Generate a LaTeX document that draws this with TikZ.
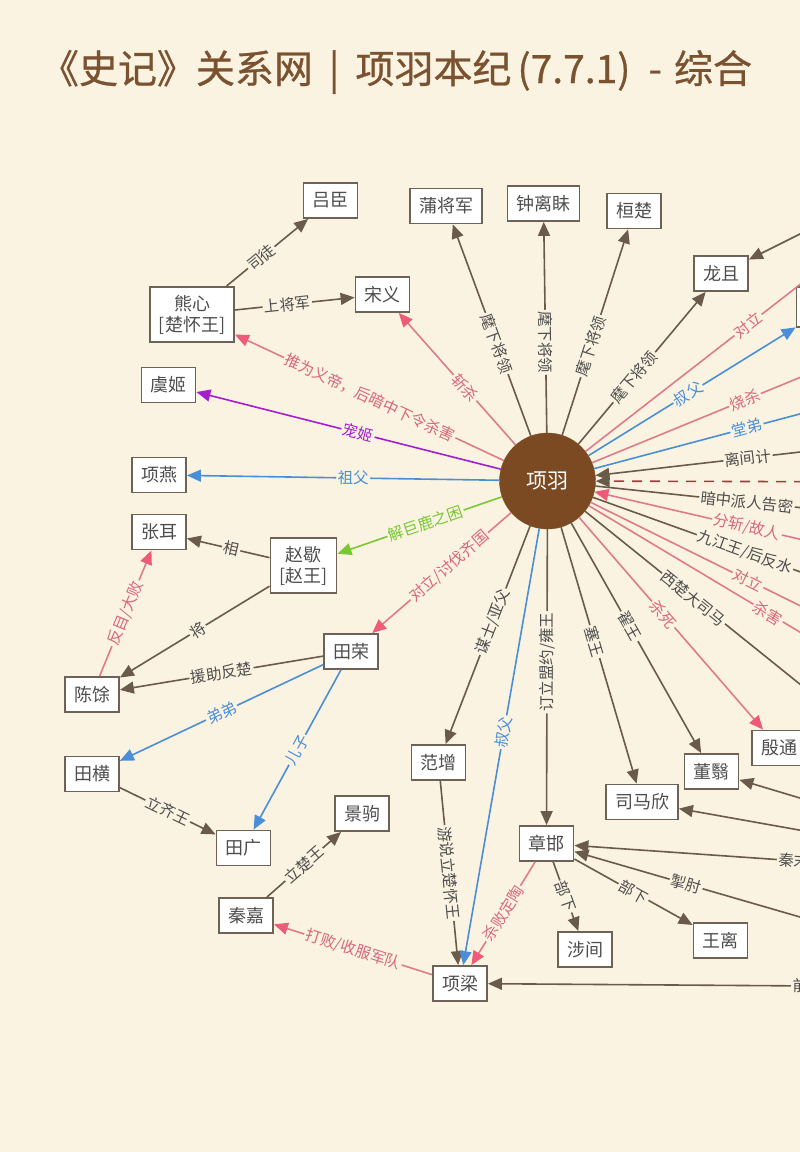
\documentclass[tikz,border=0pt]{standalone}
\usepackage{fontspec}
\setmainfont{Noto Sans CJK SC}
\newfontfamily\titlefont[FakeBold=0.7]{Noto Sans CJK SC}
\usetikzlibrary{arrows.meta}
\definecolor{bg}{HTML}{FBF3E1}
\definecolor{ttl}{HTML}{7A5230}
\definecolor{boxd}{HTML}{6E6257}
\definecolor{txt}{HTML}{4E4E4E}
\definecolor{brn}{HTML}{6A5A4A}
\definecolor{pnk}{HTML}{DE7A8E}
\definecolor{pnkA}{HTML}{EE5A7A}
\definecolor{pnkT}{HTML}{D8667E}
\definecolor{blu}{HTML}{4A8ED8}
\definecolor{pur}{HTML}{A41ED0}
\definecolor{grn}{HTML}{78C832}
\definecolor{hubc}{HTML}{7B4A22}
\definecolor{dred}{HTML}{B0343C}
\newcommand\rel[6][0.5]{\draw[#2] (#4) -- (#5); \path (#4.center) -- node[#3,pos=#1]{#6} (#5.center);}
\tikzset{
  box/.style={draw=boxd, line width=1.8pt, fill=white, text=txt, font=\fontsize{18}{21}\selectfont,
    inner xsep=9pt, inner ysep=0pt, minimum height=35pt, align=center},
  tall/.style={minimum height=55pt},
  hubn/.style={circle, fill=hubc, draw=hubc, minimum size=96pt, inner sep=0pt, text=white, font=\fontsize{21}{24}\selectfont},
  lb/.style={fill=bg, inner sep=1.5pt, sloped, font=\fontsize{15.5}{17}\selectfont},
  lB/.style={lb, text=txt},
  lP/.style={lb, text=pnkT},
  lU/.style={lb, text=blu},
  lV/.style={lb, text=pur},
  lG/.style={lb, text=grn},
  tip/.style={-{Triangle[length=14pt,width=12pt,color=#1]}},
  eB/.style={draw=brn, line width=1.6pt, tip=brn},
  eP/.style={draw=pnk, line width=1.6pt, tip=pnkA},
  eU/.style={draw=blu, line width=1.6pt, tip=blu},
  eV/.style={draw=pur, line width=1.6pt, tip=pur},
  eG/.style={draw=grn, line width=1.6pt, tip=grn},
  eD/.style={draw=dred, line width=1.6pt, dash pattern=on 10pt off 8pt, tip=brn},
}
\begin{document}
\begin{tikzpicture}[x=1pt,y=-1pt]
\useasboundingbox (0,0) rectangle (800,1152);
\fill[bg] (0,0) rectangle (800,1152);
\clip (0,0) rectangle (800,1152);

\node[text=ttl, font=\titlefont\fontsize{39}{44}\selectfont, inner sep=0pt] (title) at (396,72) {《史记》关系网\hspace{16pt}|\hspace{16pt}项羽本纪\hspace{6pt}(7.7.1)\hspace{18pt}-\hspace{12pt}综合};

% nodes
\node[hubn] (hub) at (547.5,481) {项羽};
\node[box] (lvchen) at (330.5,200.5) {吕臣};
\node[box,tall] (xiongxin) at (192,314.5) {熊心\\{}[楚怀王]};
\node[box] (songyi) at (382.5,294.5) {宋义};
\node[box] (yuji) at (168.5,385) {虞姬};
\node[box] (xiangyan) at (159,475) {项燕};
\node[box] (zhanger) at (159,532) {张耳};
\node[box,tall] (zhaoxie) at (303.5,565.5) {赵歇\\{}[赵王]};
\node[box] (tianrong) at (351,651.5) {田荣};
\node[box] (chenyu) at (92,694.5) {陈馀};
\node[box] (tianheng) at (92,774) {田横};
\node[box] (tianguang) at (243.5,848) {田广};
\node[box] (jingju) at (362,813.5) {景驹};
\node[box] (qinjia) at (246,915.5) {秦嘉};
\node[box] (fanzeng) at (438.5,762.5) {范增};
\node[box] (xiangliang) at (460,983.5) {项梁};
\node[box] (zhanghan) at (546.5,843.5) {章邯};
\node[box] (shejian) at (585,949.5) {涉间};
\node[box] (wangli) at (720.5,940.5) {王离};
\node[box] (simaxin) at (642,802) {司马欣};
\node[box] (dongyi) at (711.5,771.5) {董翳};
\node[box] (yintong) at (779,748) {殷通};
\node[box] (pu) at (446,206) {蒲将军};
\node[box] (zhongli) at (543.5,203.5) {钟离眛};
\node[box] (huanchu) at (634,211) {桓楚};
\node[box] (longju) at (721,273.5) {龙且};
\node[box,minimum width=64pt,minimum height=40pt] (offA) at (828.5,307) {};

% off-canvas ends
\coordinate (o1) at (948.5,169);
\coordinate (o2) at (942.5,319);
\coordinate (o3) at (946.5,375);
\coordinate (o4) at (948.5,435);
\coordinate (o5) at (948,482);
\coordinate (o6) at (946.5,523);
\coordinate (o7) at (946.5,573);
\coordinate (o8) at (942.5,623);
\coordinate (o9) at (948.5,679);
\coordinate (o10) at (988.5,745);
\coordinate (o11) at (839.5,716);
\coordinate (oB) at (900,184);
\coordinate (oC) at (900,828);
\coordinate (oD) at (900,848);
\coordinate (oQ) at (1100,882);
\coordinate (oZ) at (900,946);
\coordinate (oF) at (1100,988);

% edges, left part
\rel{eB}{lB}{xiongxin}{lvchen}{司徒}
\rel{eB}{lB}{xiongxin}{songyi}{上将军}
\rel{eP}{lP}{hub}{xiongxin}{推为义帝，后暗中下令杀害}
\rel{eP}{lP}{hub}{songyi}{斩杀}
\rel{eV}{lV}{hub}{yuji}{宠姬}
\rel{eU}{lU}{hub}{xiangyan}{祖父}
\rel{eG}{lG}{hub}{zhaoxie}{解巨鹿之困}
\rel{eP}{lP}{hub}{tianrong}{对立/讨伐齐国}
\rel{eB}{lB}{zhaoxie}{zhanger}{相}
\rel{eB}{lB}{zhaoxie}{chenyu}{将}
\rel{eB}{lB}{tianrong}{chenyu}{援助反楚}
\rel{eP}{lP}{chenyu}{zhanger}{反目/大败}
\rel{eU}{lU}{tianrong}{tianheng}{弟弟}
\rel{eU}{lU}{tianrong}{tianguang}{儿子}
\rel{eB}{lB}{tianheng}{tianguang}{立齐王}
\rel{eB}{lB}{qinjia}{jingju}{立楚王}
\rel{eP}{lP}{xiangliang}{qinjia}{打败/收服军队}
\rel{eB}{lB}{fanzeng}{xiangliang}{游说立楚怀王}
\rel{eU}{lU}{hub}{xiangliang}{叔父}
\rel{eB}{lB}{hub}{fanzeng}{谋士/亚父}
\rel{eB}{lB}{hub}{zhanghan}{订立盟约/雍王}
\rel{eP}{lP}{zhanghan}{xiangliang}{杀败定陶}
\rel{eB}{lB}{zhanghan}{shejian}{部下}
\rel{eB}{lB}{zhanghan}{wangli}{部下}
\rel{eB}{lB}{hub}{simaxin}{塞王}
\rel{eB}{lB}{hub}{dongyi}{翟王}
\rel{eP}{lP}{hub}{yintong}{杀死}
% top
\rel{eB}{lB}{hub}{pu}{麾下将领}
\rel{eB}{lB}{hub}{zhongli}{麾下将领}
\rel{eB}{lB}{hub}{huanchu}{麾下将领}
\rel{eB}{lB}{hub}{longju}{麾下将领}
% right
\rel{eP}{lP}{hub}{o1}{对立}
\rel{eU}{lU}{hub}{offA}{叔父}
\rel{eP}{lP}{hub}{o2}{烧杀}
\rel{eU}{lU}{hub}{o3}{堂弟}
\rel{eB}{lB}{o4}{hub}{离间计}
\draw[eD] (o5) -- (hub);
\rel{eB}{lB}{hub}{o6}{暗中派人告密}
\rel{eP}{lP}{o7}{hub}{分斩/故人}
\rel{eB}{lB}{hub}{o8}{九江王/后反水}
\rel{eP}{lP}{hub}{o9}{对立}
\rel{eP}{lP}{hub}{o10}{杀害}
\rel{eB}{lB}{hub}{o11}{西楚大司马}
\draw[eB] (oB) -- (longju);
\draw[eB] (oC) -- (dongyi);
\draw[eB] (oD) -- (simaxin);
\rel[0.584,anchor=west]{eB}{lB}{oQ}{zhanghan}{秦末}
\rel[0.605]{eB}{lB}{oZ}{zhanghan}{掣肘}
\rel[0.483,anchor=west]{eB}{lB}{oF}{xiangliang}{前}
\end{tikzpicture}
\end{document}
